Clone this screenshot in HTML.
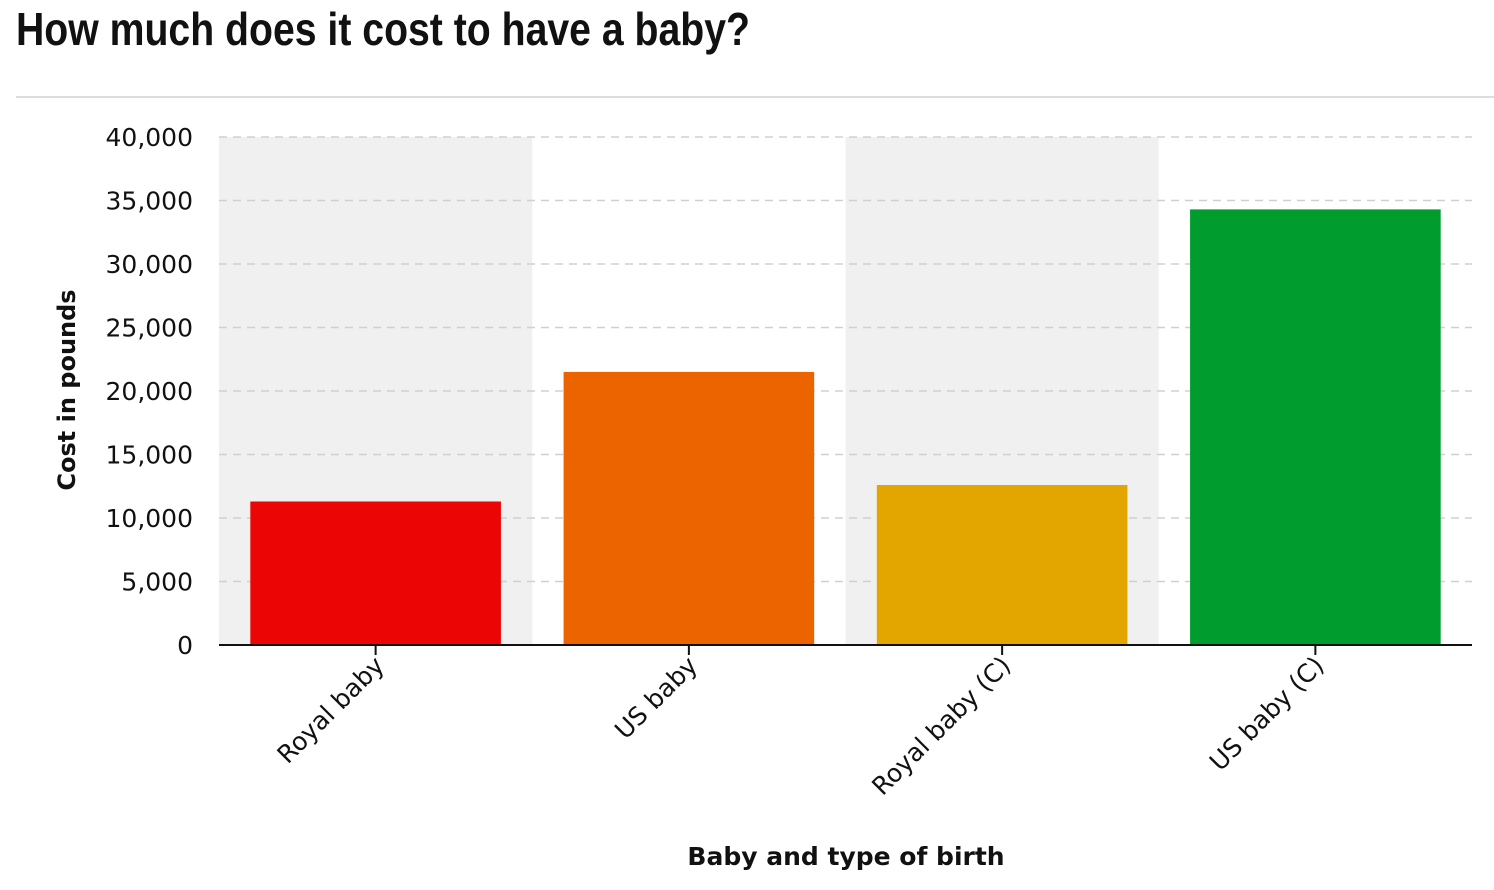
<!DOCTYPE html>
<html><head><meta charset="utf-8"><style>
html,body{margin:0;padding:0;background:#fff;}
svg{display:block;}
</style></head><body>
<svg id="chart" width="1494" height="890" xmlns="http://www.w3.org/2000/svg">
<text x="16" y="45" font-family="'Liberation Sans Narrow','Liberation Sans',sans-serif" font-weight="bold" font-size="46" fill="#111" textLength="734" lengthAdjust="spacingAndGlyphs">How much does it cost to have a baby?</text>
<line x1="16" y1="97" x2="1494" y2="97" stroke="#ddd" stroke-width="2"/>
<g id="plot"></g>
<text transform="translate(75,390) rotate(-90)" text-anchor="middle" font-family="'DejaVu Sans',sans-serif" font-weight="bold" font-size="24" fill="#111">Cost in pounds</text>
<text x="846" y="865" text-anchor="middle" font-family="'DejaVu Sans',sans-serif" font-weight="bold" font-size="25" fill="#111">Baby and type of birth</text>
</svg>
<script>
const categories = ["Royal baby", "US baby", "Royal baby (C)", "US baby (C)"];
const values = [11300, 21500, 12600, 34300];
const colors = ["#ec0505", "#ec6400", "#e3a600", "#009c2e"];
const yTicks = [0, 5000, 10000, 15000, 20000, 25000, 30000, 35000, 40000];
const yTickLabels = ["0", "5,000", "10,000", "15,000", "20,000", "25,000", "30,000", "35,000", "40,000"];

const NS = "http://www.w3.org/2000/svg";
const g = document.getElementById("plot");
const X0 = 219, X1 = 1472, Y0 = 645, Y1 = 137, YMAX = 40000;
const band = (X1 - X0) / categories.length;
const y = v => Y0 - (v / YMAX) * (Y0 - Y1);
const xb = i => X0 + i * band;
function mk(tag, attrs) { const e = document.createElementNS(NS, tag); for (const k in attrs) e.setAttribute(k, attrs[k]); g.appendChild(e); return e; }

categories.forEach((c, i) => {
  if (i % 2 === 0) {
    const r = mk("rect", {x: xb(i), y: Y1, width: band, height: Y0 - Y1, fill: "#f0f0f0"});
    
    
  }
});
yTicks.forEach((t, i) => {
  if (t > 0) {
    const l = mk("line", {x1: X0, x2: X1, y1: y(t), y2: y(t), stroke: "#d0d0d0", "stroke-width": 1.5, "stroke-dasharray": "8,6"});
    
    
  }
  const tx = mk("text", {x: 193, y: y(t) + 9, "text-anchor": "end", "font-family": "'DejaVu Sans',sans-serif", "font-size": 25, fill: "#111"});
  tx.textContent = yTickLabels[i];
  
  
});
values.forEach((v, i) => {
  const bw = band * 0.8;
  const r = mk("rect", {x: xb(i) + (band - bw) / 2, y: y(v), width: bw, height: Y0 - y(v), fill: colors[i]});
  
  
  const cx = xb(i) + band / 2;
  const tk = mk("line", {x1: cx, x2: cx, y1: Y0, y2: Y0 + 10, stroke: "#111", "stroke-width": 2});
  
  
  const lb = mk("text", {transform: `translate(${cx + 10},${Y0 + 22}) rotate(-45)`, "text-anchor": "end", "font-family": "'DejaVu Sans',sans-serif", "font-size": 25, fill: "#111"});
  lb.textContent = categories[i];
  
  
});
const ax = mk("line", {x1: X0, x2: X1, y1: Y0, y2: Y0, stroke: "#111", "stroke-width": 2});


</script>
</body></html>
